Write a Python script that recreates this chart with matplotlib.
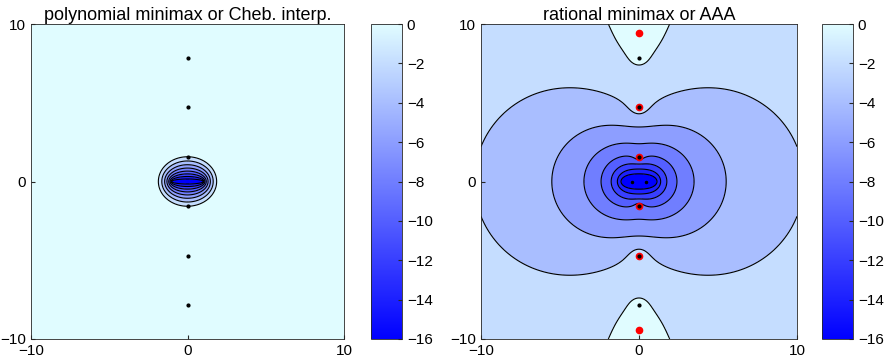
import numpy as np
import matplotlib
matplotlib.use('Agg')
import matplotlib.pyplot as plt
from matplotlib.colors import LinearSegmentedColormap, Normalize
from matplotlib.cm import ScalarMappable

plt.rcParams['font.family'] = ['Liberation Sans', 'DejaVu Sans']
plt.rcParams['font.size'] = 11

# singularities of f = tanh(z) (black dots), +-pi/2, +-3pi/2, +-5pi/2 i
f_poles = [1.571, -1.571, 4.712, -4.712, 7.854, -7.854]
f_poles_far = [14.14, -14.14]            # off the plot, used for the error model
# poles of the rational approximant (red dots)
r_poles = [1.571, -1.571, 4.712, -4.712, 9.45, -9.45]
# black dots on the real axis in the right panel
real_dots = [-0.45, 0.45]
# interpolation points on [-1,1]
interp_pts = [0.994, 0.949, 0.866, 0.751, 0.609, 0.448, 0.275, 0.093,
              -0.093, -0.275, -0.448, -0.609, -0.751, -0.866, -0.949, -0.994]
poly_degree = 30
err_floor = -16
rat_scale = -2.93         # log10 offset of the rational error

levels = [-14, -12, -10, -8, -6, -4, -2, 0]
band_vals = [-16, -14, -12, -10, -8, -6, -4, -2, 0]
cbar_ticks = [0, -2, -4, -6, -8, -10, -12, -14, -16]

cmap = LinearSegmentedColormap.from_list('mb', ['#0000ff', '#e0fcff'])
norm = Normalize(-16, 0)

x = np.linspace(-10, 10, 700)
X, Y = np.meshgrid(x, x)
Z = X + 1j * Y

# polynomial error: grows like |phi(z)|^n outside [-1,1]
phi = Z + np.sqrt(Z - 1) * np.sqrt(Z + 1)
rho = abs(1j * 1.5708 + np.sqrt(1j * 1.5708 - 1) * np.sqrt(1j * 1.5708 + 1))
E1 = poly_degree * np.log10(np.abs(phi) / rho)
E1 = np.maximum(E1, err_floor)

# rational error: node polynomial over poles of r and f
E2 = rat_scale + sum(np.log10(np.abs(Z - xj)) for xj in interp_pts)
for p in r_poles:
    E2 -= np.log10(np.abs(Z - 1j * p))
for p in f_poles + f_poles_far:
    E2 -= np.log10(np.abs(Z - 1j * p))
E2 = np.maximum(E2, err_floor - 1)

fig = plt.figure(figsize=(8.86, 3.64), dpi=100)
ax1 = fig.add_axes([31/886, 25/364, 313/886, 315/364])
cax1 = fig.add_axes([371/886, 25/364, 31/886, 315/364])
ax2 = fig.add_axes([481/886, 25/364, 316/886, 315/364])
cax2 = fig.add_axes([822/886, 25/364, 31/886, 315/364])

band_colors = [cmap(norm(v)) for v in band_vals]
fill_levels = [-1000] + levels + [1000]

for ax, E, title in [(ax1, E1, 'polynomial minimax or Cheb. interp.'),
                     (ax2, E2, 'rational minimax or AAA')]:
    ax.contourf(X, Y, E, levels=fill_levels, colors=band_colors)
    ax.contour(X, Y, E, levels=levels, colors='k', linewidths=0.8,
               linestyles='solid')
    ax.set_xlim(-10, 10)
    ax.set_ylim(-10, 10)
    ax.set_xticks([-10, 0, 10])
    ax.set_yticks([-10, 0, 10])
    ax.tick_params(direction='in', length=3, colors='#262626', labelcolor='k', labelsize=11)
    ax.set_title(title, fontsize=13, pad=3)
    for s in ax.spines.values():
        s.set_color('#262626')
        s.set_linewidth(0.6)

ax1.plot([0] * len(f_poles), f_poles, 'k.', ms=4)
ax2.plot([0] * len(r_poles), r_poles, 'o', color='r', ms=4.5, mec='r')
ax2.plot([0] * len(f_poles), f_poles, 'k.', ms=4)
ax2.plot(real_dots, [0] * len(real_dots), 'k.', ms=3)

for cax in [cax1, cax2]:
    cb = fig.colorbar(ScalarMappable(norm=norm, cmap=cmap), cax=cax)
    cb.set_ticks(cbar_ticks)
    cb.ax.tick_params(direction='in', length=3, labelsize=11, colors='#262626', labelcolor='k')
    cb.outline.set_edgecolor('#262626')
    cb.outline.set_linewidth(0.6)

fig.savefig('out.png', dpi=100)
